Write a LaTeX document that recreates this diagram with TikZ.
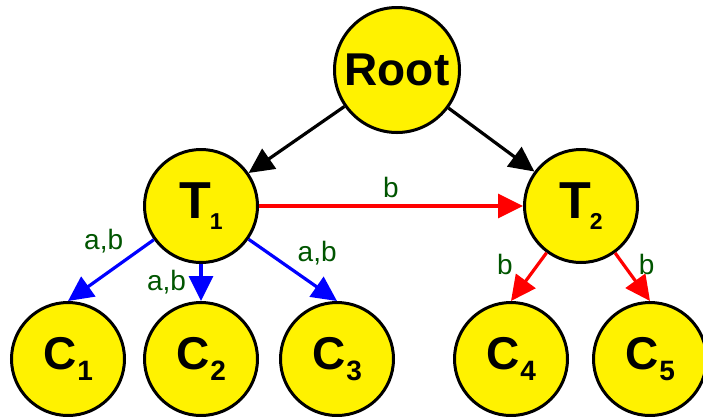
\documentclass[tikz,border=0pt]{standalone}
\usepackage{fontspec}
\setmainfont{Liberation Sans}
\usetikzlibrary{arrows.meta}
\definecolor{verdeetiq}{RGB}{0,85,0}
\newcommand{\tnom}[1]{{\fontsize{52}{52}\selectfont T}\kern-1pt\raisebox{-11pt}{\fontsize{23}{23}\selectfont #1}}
\newcommand{\cnom}[1]{C\kern1pt\raisebox{-11pt}{\fontsize{28}{28}\selectfont #1}}

\begin{document}
\begin{tikzpicture}[x=1pt, y=-1pt,
  estado/.style={circle, draw, line width=3pt, fill=yellow, minimum size=113pt,
                 inner sep=0pt, font=\fontsize{46}{46}\selectfont\bfseries},
  flecha/.style={-{Triangle[length=25pt,width=24pt]}, line width=3.2pt},
  etiq/.style={text=verdeetiq, font=\fontsize{28}{28}\selectfont}]
\useasboundingbox (0,0) rectangle (703,416);
\node[estado, minimum size=125pt](root) at (397,70){Root};
\node[estado](t1) at (201,206){\tnom{1}};
\node[estado](t2) at (581,206){\tnom{2}};
\node[estado](c1) at (68,359){\cnom{1}};
\node[estado](c2) at (201,359){\cnom{2}};
\node[estado](c3) at (337,359){\cnom{3}};
\node[estado](c4) at (511,359){\cnom{4}};
\node[estado](c5) at (650,359){\cnom{5}};
\draw[flecha](root)--(t1);
\draw[flecha](root)--(t2);
\draw[flecha, red](t1)--(t2) node[etiq, midway, above=3pt]{b};
\draw[flecha, blue](t1)--(c1.north) node[etiq, pos=0.3, above left]{a,b};
\draw[flecha, blue](t1)--(c2.north) node[etiq, midway, left=10pt]{a,b};
\draw[flecha, blue](t1)--(c3.north) node[etiq, pos=0.5, above right]{a,b};
\draw[flecha, red](t2)--(c4.north) node[etiq, pos=0.25, left=20pt]{b};
\draw[flecha, red](t2)--(c5.north) node[etiq, pos=0.25, right=10pt]{b};
\end{tikzpicture}
\end{document}
